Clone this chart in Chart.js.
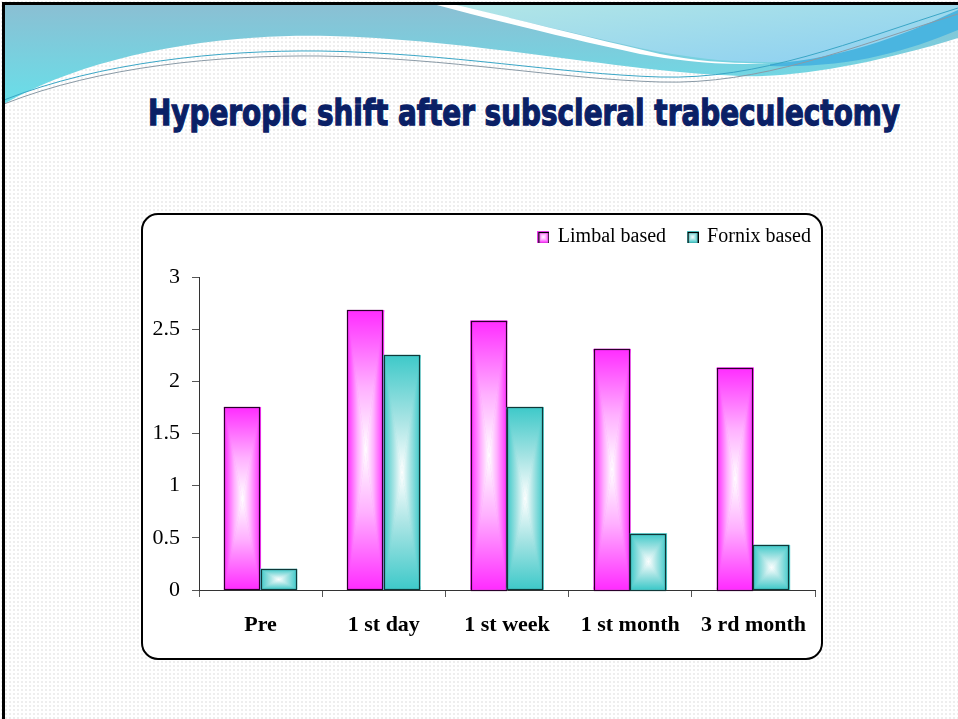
<!DOCTYPE html>
<html>
<head>
<meta charset="utf-8">
<script src="https://cdn.jsdelivr.net/npm/chart.js@4.4.0/dist/chart.umd.min.js"></script>
<style>
  html, body { margin: 0; padding: 0; }
  body {
    width: 958px; height: 719px; position: relative; overflow: hidden;
    background-color: #fff;
    background-image: radial-gradient(circle, #eeeeee 0.8px, transparent 1px);
    background-size: 4px 4px;
  }
  #frame {
    position: absolute; left: 2px; top: 2px; width: 970px; height: 730px;
    border-left: 3px solid #000; border-top: 3px solid #000; box-sizing: border-box;
  }
  #waves { position: absolute; left: 0; top: 0; }
  #title {
    position: absolute; left: 0; top: 93px; white-space: nowrap;
    font: bold 35px "DejaVu Sans", sans-serif; color: #0a2066;
    -webkit-text-stroke: 1.3px #0a2066; transform-origin: 0 0;
  }
  #box {
    position: absolute; left: 141px; top: 213px; width: 682px; height: 447px;
    box-sizing: border-box; border: 2px solid #000; border-radius: 17px; background: #fff;
  }
  #wrap { position: absolute; left: 0; top: 0; width: 678px; height: 443px; }
</style>
</head>
<body>
<svg id="waves" width="958" height="719" viewBox="0 0 958 719">
  <defs>
    <linearGradient id="gA" x1="0" y1="0" x2="0" y2="1">
      <stop offset="0" stop-color="#8bbfd3"/>
      <stop offset="1" stop-color="#68dfe9"/>
    </linearGradient>
    <linearGradient id="gB" x1="0" y1="0" x2="1" y2="1">
      <stop offset="0" stop-color="#b2e6e6"/>
      <stop offset="1" stop-color="#8ccff2"/>
    </linearGradient>
  </defs>
  <path d="M4,4 H958 V38 C880,62 800,78 740,76 C620,72 480,40 330,36 C200,33 80,60 4,104 Z" fill="url(#gA)"/>
  <path d="M450,4 H958 V20 C900,42 840,60 780,62 C730,63 690,58 640,48 C560,30 500,16 450,4 Z" fill="url(#gB)"/>
  <path d="M433,4 H452 C520,20 600,40 660,54 C700,62 740,64 775,63 C720,66 680,61 640,54 C560,37 490,19 433,4 Z" fill="#fff"/>
  <path d="M770,64 C850,58 915,30 958,10 V30 C905,52 850,68 770,66 Z" fill="#4ab5e0"/>
  <path d="M4,100 C100,62 220,50 320,51 C450,53 560,74 660,77 C760,80 850,42 958,8" stroke="#3aa6c6" stroke-width="1" fill="none"/>
  <path d="M4,104 C100,66 220,55 320,56 C450,58 560,79 660,82 C760,85 850,48 958,14" stroke="#8a9aa6" stroke-width="1" fill="none"/>
</svg>
<div id="frame"></div>
<div id="title">Hyperopic shift after subscleral trabeculectomy</div>
<div id="box"><div id="wrap"><canvas id="chart"></canvas></div></div>
<script>
// title: fit to the reference span
const title = document.getElementById('title');
const tw = title.getBoundingClientRect().width;
title.style.transform = 'scaleX(' + (752 / tw) + ')';
title.style.left = '148px';

const categories = ['Pre', '1 st day', '1 st week', '1 st month', '3 rd month'];
const limbal = [1.75, 2.68, 2.58, 2.31, 2.13];
const fornix = [0.2, 2.25, 1.75, 0.54, 0.43];
const yTicks = [0, 0.5, 1, 1.5, 2, 2.5, 3];
const seriesNames = ['Limbal based', 'Fornix based'];

const edgeColors = ['#ff2cff', '#3ec9c9'];
const midColors = ['#ffb0ff', '#a8e4e4'];
const borderColors = ['#2a002a', '#103838'];

function gradFill(ctx, x0, y0, x1, y1, i) {
  const g = ctx.createLinearGradient(x0, y0, x1, y1);
  g.addColorStop(0, edgeColors[i]);
  g.addColorStop(0.55, midColors[i]);
  g.addColorStop(1, '#ffffff');
  return g;
}

// rectangular "from centre" gradient: four triangles meeting at the middle
function paintRect(ctx, l, t, r, b, i, border) {
  const cx = (l + r) / 2, cy = (t + b) / 2;
  ctx.save();
  ctx.fillStyle = edgeColors[i];
  ctx.fillRect(l, t, r - l, b - t);
  const tris = [
    [[l, t], [l, b], [l, cy]],
    [[r, t], [r, b], [r, cy]],
    [[l, t], [r, t], [cx, t]],
    [[l, b], [r, b], [cx, b]]
  ];
  tris.forEach(([p1, p2, from]) => {
    ctx.beginPath();
    ctx.moveTo(p1[0], p1[1]);
    ctx.lineTo(p2[0], p2[1]);
    ctx.lineTo(cx, cy);
    ctx.closePath();
    ctx.fillStyle = gradFill(ctx, from[0], from[1], cx, cy, i);
    ctx.fill();
    ctx.strokeStyle = ctx.fillStyle;
    ctx.lineWidth = 0.6;
    ctx.stroke();
  });
  ctx.strokeStyle = border;
  ctx.lineWidth = 1.2;
  ctx.strokeRect(Math.round(l) + 0.5, Math.round(t) + 0.5, Math.round(r - l) - 1, Math.round(b - t));
  ctx.restore();
}

const rectGradient = {
  id: 'rectGradient',
  afterDatasetsDraw(chart) {
    const ctx = chart.ctx;
    chart.data.datasets.forEach((ds, i) => {
      chart.getDatasetMeta(i).data.forEach(bar => {
        const p = bar.getProps(['x', 'y', 'base', 'width'], true);
        paintRect(ctx, p.x - p.width / 2, Math.min(p.y, p.base), p.x + p.width / 2,
          Math.max(p.y, p.base), i, borderColors[i]);
      });
    });
  }
};

// move the legend into the top-right corner without changing the plot area
const legendShift = {
  id: 'legendShift',
  afterLayout(chart) {
    const lg = chart.legend;
    const dx = 12, dy = -20;
    lg.left += dx; lg.right += dx; lg.top += dy; lg.bottom += dy;
  }
};

function legendIcon(i) {
  const c = document.createElement('canvas');
  c.width = 12; c.height = 12;
  paintRect(c.getContext('2d'), 0.5, 0.5, 11.5, 11.5, i, '#000');
  return c;
}

new Chart(document.getElementById('chart'), {
  type: 'bar',
  data: {
    labels: categories,
    datasets: [
      { label: seriesNames[0], data: limbal, backgroundColor: edgeColors[0], borderColor: borderColors[0],
        borderWidth: 1, pointStyle: legendIcon(0) },
      { label: seriesNames[1], data: fornix, backgroundColor: edgeColors[1], borderColor: borderColors[1],
        borderWidth: 1, pointStyle: legendIcon(1) }
    ]
  },
  options: {
    responsive: true,
    maintainAspectRatio: false,
    animation: false,
    layout: { padding: { top: 10, right: 0, bottom: 0, left: 0 } },
    datasets: { bar: { categoryPercentage: 0.59, barPercentage: 1 } },
    plugins: {
      tooltip: { enabled: false },
      legend: {
        position: 'top',
        align: 'end',
        labels: {
          usePointStyle: true,
          boxWidth: 9, boxHeight: 12,
          padding: 22,
          color: '#000',
          font: { family: 'Liberation Serif', size: 20 }
        }
      }
    },
    scales: {
      x: {
        grid: { display: true, offset: true, drawOnChartArea: false, tickLength: 7, color: '#555' },
        border: { display: true, color: '#333', width: 1 },
        ticks: { color: '#000', padding: 15, maxRotation: 0, autoSkip: false,
          font: { family: 'Liberation Serif', size: 22, weight: 'bold' } },
        afterFit(scale) { scale.height = 68; }
      },
      y: {
        min: 0, max: 3,
        afterBuildTicks(scale) { scale.ticks = yTicks.map(v => ({ value: v })); },
        grid: { display: true, drawOnChartArea: false, tickLength: 7, color: '#555' },
        border: { display: true, color: '#333', width: 1 },
        ticks: { color: '#000', padding: 12, font: { family: 'Liberation Serif', size: 22 },
          callback: v => String(v) },
        afterFit(scale) { scale.width = 56; }
      }
    }
  },
  plugins: [rectGradient, legendShift]
});
</script>
</body>
</html>
